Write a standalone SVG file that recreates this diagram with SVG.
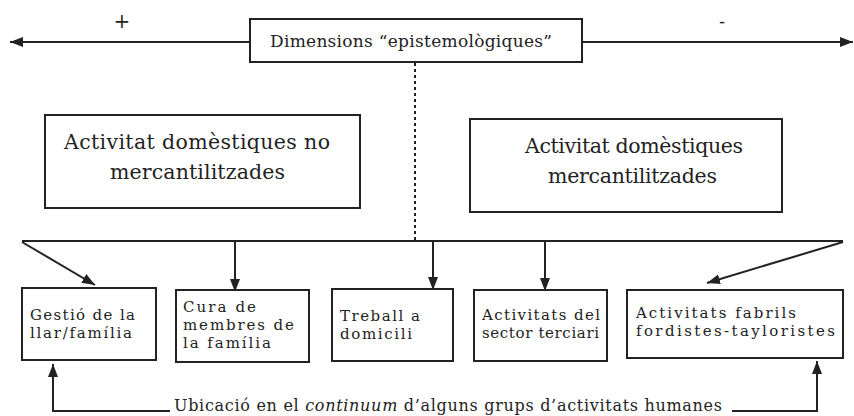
<svg xmlns="http://www.w3.org/2000/svg" width="854" height="416" viewBox="0 0 854 416">
<style>
.box{fill:#fff;stroke:#222;stroke-width:2}
.ln{fill:none;stroke:#222;stroke-width:2}
.t{font-family:"DejaVu Serif","Liberation Serif",serif;fill:#222}
.s{font-size:15px}
</style>
<defs>
<marker id="ah" markerUnits="userSpaceOnUse" markerWidth="14" markerHeight="12" refX="13" refY="5" orient="auto">
<path d="M0,0 L13,5 L0,10 z" fill="#222"/>
</marker>
</defs>
<rect width="854" height="416" fill="#fff"/>
<g id="connectors">
<line class="ln" x1="250" y1="42" x2="10" y2="42" marker-end="url(#ah)"/>
<line class="ln" x1="582" y1="42" x2="853" y2="42" marker-end="url(#ah)"/>
<line class="ln" x1="415" y1="63" x2="415" y2="240" stroke-dasharray="3,3"/>
<line class="ln" x1="22" y1="241" x2="843" y2="241"/>
<line class="ln" x1="22" y1="242" x2="95" y2="285" marker-end="url(#ah)"/>
<line class="ln" x1="235" y1="242" x2="235" y2="292" marker-end="url(#ah)"/>
<line class="ln" x1="433" y1="242" x2="433" y2="290" marker-end="url(#ah)"/>
<line class="ln" x1="545" y1="242" x2="545" y2="291" marker-end="url(#ah)"/>
<line class="ln" x1="843" y1="242" x2="707" y2="283" marker-end="url(#ah)"/>
<polyline class="ln" points="170,411 53,411 53,364" marker-end="url(#ah)"/>
<polyline class="ln" points="732,411 817,411 817,361" marker-end="url(#ah)"/>
</g>
<g id="plus"><text class="t" x="122" y="28" font-size="20" text-anchor="middle" font-family="DejaVu Sans">+</text></g>
<g id="minus"><text class="t" x="722" y="28" font-size="18" text-anchor="middle" font-family="DejaVu Sans">-</text></g>
<g id="dimensions">
<rect class="box" x="250" y="19" width="332" height="43" stroke-width="1.6"/>
<text class="t" x="270" y="47" font-size="17" textLength="282">Dimensions “epistemològiques”</text>
</g>
<g id="no-mercantil">
<rect class="box" x="45" y="115" width="315" height="93"/>
<text class="t" x="64" y="149" font-size="20.5" textLength="266">Activitat domèstiques no</text>
<text class="t" x="110" y="179" font-size="20.5" textLength="175">mercantilitzades</text>
</g>
<g id="mercantil">
<rect class="box" x="470" y="119" width="312" height="93"/>
<text class="t" x="525" y="153" font-size="20.5" textLength="218">Activitat domèstiques</text>
<text class="t" x="548" y="183" font-size="20.5" textLength="169">mercantilitzades</text>
</g>
<g id="gestio">
<rect class="box" x="22" y="288" width="134" height="72"/>
<text class="t s" x="30" y="320" textLength="105">Gestió de la</text>
<text class="t s" x="30" y="338" textLength="102">llar/família</text>
</g>
<g id="cura">
<rect class="box" x="176" y="290" width="133" height="72"/>
<text class="t s" x="183" y="312" textLength="73">Cura de</text>
<text class="t s" x="183" y="330" textLength="111">membres de</text>
<text class="t s" x="183" y="348" textLength="88">la família</text>
</g>
<g id="treball">
<rect class="box" x="332" y="289" width="121" height="72"/>
<text class="t s" x="340" y="321" textLength="80">Treball a</text>
<text class="t s" x="340" y="339" textLength="72">domicili</text>
</g>
<g id="terciari">
<rect class="box" x="474" y="290" width="133" height="71"/>
<text class="t s" x="482" y="320" textLength="118">Activitats del</text>
<text class="t s" x="482" y="338" textLength="117">sector terciari</text>
</g>
<g id="fabrils">
<rect class="box" x="627" y="290" width="216" height="68"/>
<text class="t s" x="636" y="318" textLength="160">Activitats fabrils</text>
<text class="t s" x="636" y="336" textLength="199">fordistes-tayloristes</text>
</g>
<g id="ubicacio">
<text class="t" x="174" y="411" font-size="16" textLength="548">Ubicació en el <tspan font-style="italic">continuum</tspan> d’alguns grups d’activitats humanes</text>
</g>
</svg>
